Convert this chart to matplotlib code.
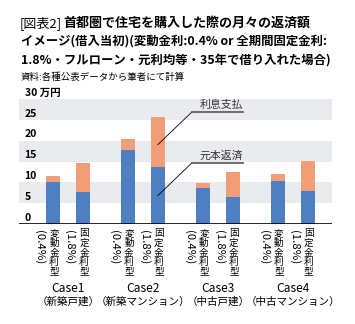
import matplotlib
matplotlib.use("Agg")
import matplotlib.pyplot as plt

plt.rcParams['font.family'] = ['Noto Sans CJK JP', 'DejaVu Sans']

# data (万円)
cases = ["Case1", "Case2", "Case3", "Case4"]
case_types = ["（新築戸建）", "（新築マンション）", "（中古戸建）", "（中古マンション）"]
loan_types = ["変動金利型", "固定金利型"]
loan_rates = ["(0.4%)", "(1.8%)"]
principal = [[10.1, 7.8], [17.7, 13.6], [8.6, 6.6], [10.4, 8.0]]   # 元本返済
interest = [[1.5, 6.8], [2.8, 12.1], [1.3, 5.9], [1.5, 7.1]]        # 利息支払
yticks = [0, 5, 10, 15, 20, 25, 30]

W, H = 355, 324
blue = "#4f7fc3"
orange = "#f19d78"
band = "#e9ebee"

fig = plt.figure(figsize=(W / 100, H / 100), dpi=100)
ax = fig.add_axes([19 / W, 1 - 224 / H, 313 / W, 125 / H])


def fy(y):
    return 1 - y / H


# title
t1 = fig.text(20 / W, fy(23), "[図表2]", fontsize=9.4, va="center", ha="left")
fig.canvas.draw()
bb = t1.get_window_extent()
fig.text(bb.x1 / W + 1 / W, fy(23), "首都圏で住宅を購入した際の月々の返済額",
         fontsize=9.4, fontweight="bold", va="center", ha="left")
fig.text(21 / W, fy(41), "イメージ(借入当初)(変動金利:0.4% or 全期間固定金利:",
         fontsize=8.9, fontweight="bold", va="center", ha="left")
fig.text(21 / W, fy(61), "1.8%・フルローン・元利均等・35年で借り入れた場合)",
         fontsize=8.9, fontweight="bold", va="center", ha="left")
fig.text(21 / W, fy(77), "資料:各種公表データから筆者にて計算",
         fontsize=6.8, va="center", ha="left")

# background bands and baseline
for lo in yticks[1::2]:
    ax.axhspan(lo, lo + 5, color=band, lw=0, zorder=0)
ax.axhline(0, color="black", lw=1.2, zorder=3)

for g in range(len(cases)):
    for i in range(2):
        x = g * 2.5 + i
        p = principal[g][i]
        q = interest[g][i]
        ax.bar(x, p, width=0.48, color=blue, zorder=2)
        ax.bar(x, q, bottom=p, width=0.48, color=orange, zorder=2)

ax.set_xlim(-1.13, 9.31)
ax.set_ylim(0, 30)
ax.axis("off")

# y labels (drawn inside the plot, slightly above their value)
for v in yticks:
    label = "30 万円" if v == 30 else str(v)
    ax.annotate(label, xy=(0, v), xycoords=("axes fraction", "data"),
                xytext=(4, 4.5), textcoords="offset points",
                fontsize=7.5, fontweight="bold", ha="left", va="center")

# vertical x labels (one character per line, upright)
for g in range(len(cases)):
    for i in range(2):
        x = g * 2.5 + i
        for k, ch in enumerate(loan_types[i]):
            ax.annotate(ch, xy=(x, fy(233.5 + k * 9.6)),
                        xycoords=("data", "figure fraction"),
                        xytext=(0.8, 0), textcoords="offset points",
                        fontsize=6.9, ha="center", va="center")
        ax.annotate(loan_rates[i], xy=(x, fy(229.5)),
                    xycoords=("data", "figure fraction"),
                    xytext=(-9.6, 0), textcoords="offset points",
                    fontsize=8.2, ha="center", va="top", rotation=-90)
    xc = g * 2.5 + 0.5
    ax.annotate(cases[g], xy=(xc, fy(289)), xycoords=("data", "figure fraction"),
                fontsize=8.6, ha="center", va="center")
    ax.annotate(case_types[g], xy=(xc, fy(302)), xycoords=("data", "figure fraction"),
                fontsize=7.6, ha="center", va="center")

# callouts
callouts = [("利息支払", 1, 1, 26.9), ("元本返済", 1, 0, 14.7)]
for text, g, part, ly in callouts:
    x = g * 2.5 + 1
    p = principal[g][1]
    ty = p + interest[g][1] * 0.45 if part == 1 else p * 0.5
    ax.plot([x, 4.64], [ty, ly], color="black", lw=0.6, zorder=4)
    ax.plot([4.64, 6.34], [ly, ly], color="#555555", lw=1.2, zorder=4)
    ax.text(4.9, ly + 0.5, text, fontsize=7.8, color="#333333",
            ha="left", va="bottom", zorder=4)

fig.savefig("out.png", dpi=100)
